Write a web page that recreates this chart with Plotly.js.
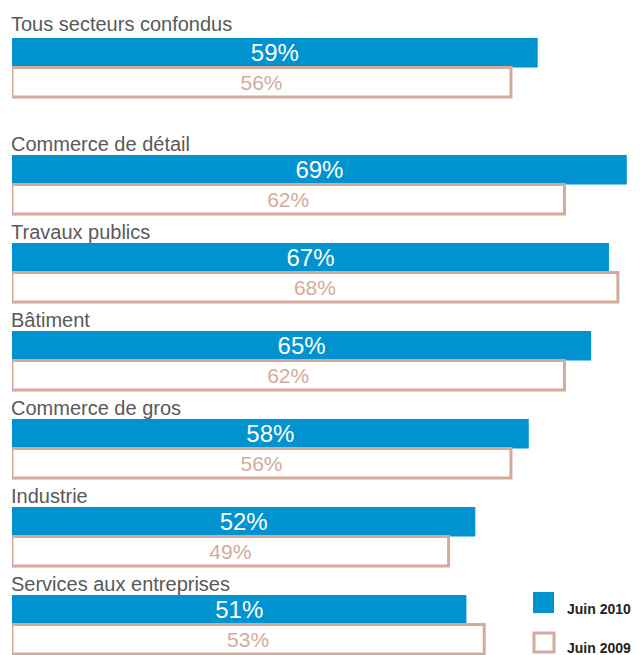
<!DOCTYPE html>
<html>
<head>
<meta charset="utf-8">
<script src="https://cdn.plot.ly/plotly-3.0.1.min.js"></script>
<style>html,body{margin:0;padding:0;background:#fff;}#chart{width:640px;height:655px;}</style>
</head>
<body>
<div id="chart"></div>
<script>
// ---- data ----
const categories = ["Tous secteurs confondus", "Commerce de détail", "Travaux publics", "Bâtiment", "Commerce de gros", "Industrie", "Services aux entreprises"];
const juin2010 = [59, 69, 67, 65, 58, 52, 51];
const juin2009 = [56, 62, 68, 62, 56, 49, 53];
const seriesNames = ["Juin 2010", "Juin 2009"];

// ---- layout helpers ----
const W = 640, H = 655, ML = 12;
const GAP = 0.33;            // extra space after the first (total) group
const BW = 0.335;            // bar thickness in category units
const SCALE = 8.91;          // pixels per percentage point
const pos = categories.map((c, i) => i === 0 ? 0 : i + GAP);
const BLUE = '#0093d0', TAN = '#d3ab9c';
const FONT = 'Liberation Sans, Arial, sans-serif';
const px2x = px => (px - ML) / (W - ML);
const px2y = py => 1 - py / H;

const traces = [
  {
    type: 'bar', orientation: 'h', name: seriesNames[0],
    y: pos, x: juin2010, width: BW, offset: -BW,
    marker: {color: BLUE, line: {width: 0}},
    texttemplate: '%{x}%', textposition: 'inside', insidetextanchor: 'middle',
    constraintext: 'none',
    textfont: {family: FONT, size: 24, color: '#ffffff'},
    hoverinfo: 'skip', cliponaxis: false
  },
  {
    type: 'bar', orientation: 'h', name: seriesNames[1],
    y: pos, x: juin2009, width: BW, offset: 0,
    marker: {color: '#ffffff', line: {width: 3, color: TAN}},
    texttemplate: '%{x}%', textposition: 'inside', insidetextanchor: 'middle',
    constraintext: 'none',
    textfont: {family: FONT, size: 21, color: TAN},
    hoverinfo: 'skip', cliponaxis: false
  }
];

const annotations = categories.map((c, i) => ({
  text: c, xref: 'paper', x: 0, xanchor: 'left', xshift: -3,
  yref: 'y', y: pos[i] - BW, yanchor: 'bottom', yshift: i === 0 ? 1 : -2,
  showarrow: false,
  font: {family: FONT, size: 20, color: '#595959'}
}));

// legend text
annotations.push(
  {text: '<b>' + seriesNames[0] + '</b>', xref: 'paper', yref: 'paper', x: px2x(565), y: px2y(609),
   xanchor: 'left', yanchor: 'middle', showarrow: false,
   font: {family: FONT, size: 14, color: '#222222'}},
  {text: '<b>' + seriesNames[1] + '</b>', xref: 'paper', yref: 'paper', x: px2x(565), y: px2y(648),
   xanchor: 'left', yanchor: 'middle', showarrow: false,
   font: {family: FONT, size: 14, color: '#222222'}}
);

const shapes = [
  {type: 'rect', xref: 'paper', yref: 'paper', x0: px2x(533), x1: px2x(554), y0: px2y(592), y1: px2y(613),
   fillcolor: BLUE, line: {width: 0}},
  {type: 'rect', xref: 'paper', yref: 'paper', x0: px2x(534), x1: px2x(554), y0: px2y(633), y1: px2y(652),
   fillcolor: '#ffffff', line: {width: 3, color: TAN}}
];

const layout = {
  width: W, height: H,
  margin: {l: ML, r: 0, t: 0, b: 0, pad: 0},
  paper_bgcolor: '#ffffff', plot_bgcolor: '#ffffff',
  barmode: 'overlay', showlegend: false,
  xaxis: {range: [0, (W - ML) / SCALE], visible: false, fixedrange: true},
  yaxis: {range: [(H - 67.5) / 88, -67.5 / 88], visible: false, fixedrange: true},
  annotations: annotations, shapes: shapes,
  font: {family: FONT}
};

Plotly.newPlot('chart', traces, layout, {displayModeBar: false, staticPlot: true});
</script>
</body>
</html>
